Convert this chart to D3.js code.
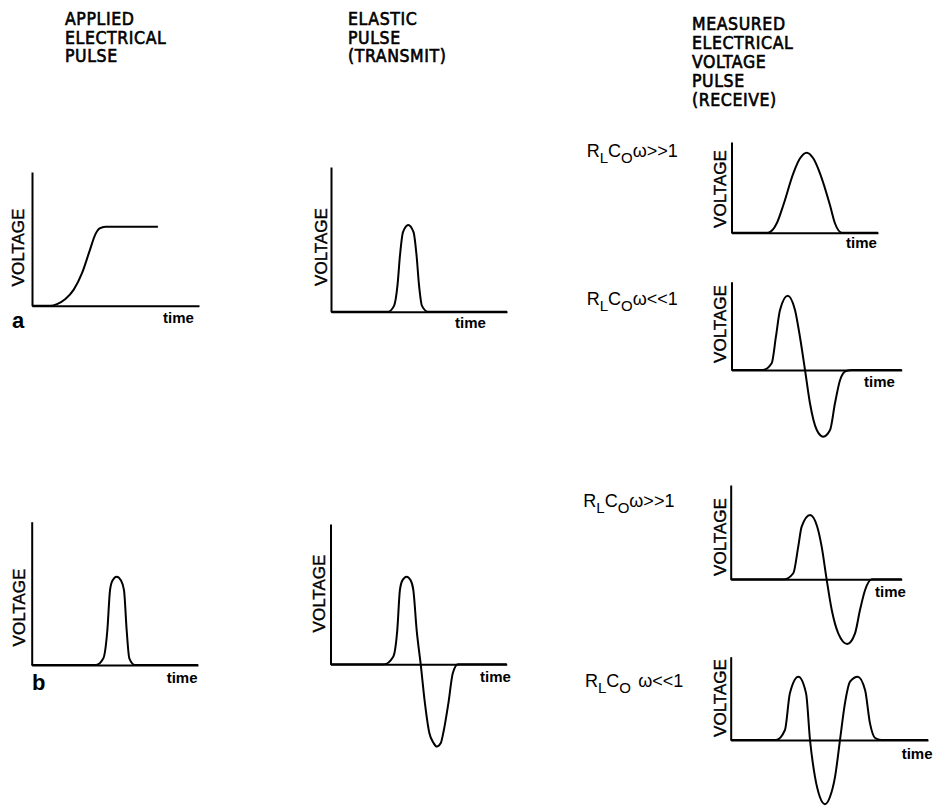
<!DOCTYPE html>
<html>
<head>
<meta charset="utf-8">
<script src="https://cdn.jsdelivr.net/npm/d3@7"></script>
<style>
  body { margin: 0; background: #fff; }
  text { fill: #000; }
</style>
</head>
<body>
<div id="chart"></div>
<script>
const WIDTH = 936;
const HEIGHT = 806;

// column headers
const headerApplied = ['APPLIED', 'ELECTRICAL', 'PULSE'];
const headerElastic = ['ELASTIC', 'PULSE', '(TRANSMIT)'];
const headerMeasured = ['MEASURED', 'ELECTRICAL', 'VOLTAGE', 'PULSE', '(RECEIVE)'];

// R_L C_0 conditions for the four receive traces
const conditionText = ['\u03c9>>1', '\u03c9<<1', '\u03c9>>1', '\u2009\u2009\u03c9<<1'];
const rowLetters = ['a', 'b'];

// waveforms as [time, voltage]: time runs 0..10 along the axis,
// voltage is a share of the vertical axis height
const appliedStep = [[0, 0], [1.08, 0], [1.5, 0.012], [2.0, 0.05], [2.5, 0.12], [3.0, 0.245],
  [3.45, 0.41], [3.8, 0.535], [4.05, 0.578], [4.4, 0.591], [7.54, 0.591]];

const elasticA = [[0, 0], [3.24, 0], [3.58, 0.04], [3.78, 0.185], [3.92, 0.39], [4.09, 0.55],
  [4.39, 0.6], [4.69, 0.55], [4.86, 0.39], [5.0, 0.185], [5.17, 0.04], [5.51, 0], [10, 0]];

const receiveA1 = [[0, 0], [2.49, 0], [3.09, 0.104], [3.54, 0.305], [4.22, 0.655], [4.68, 0.82],
  [5.13, 0.882], [5.58, 0.82], [6.04, 0.655], [6.72, 0.305], [7.06, 0.104], [7.54, 0], [10, 0]];

const receiveA2 = [[0, 0], [1.85, 0], [2.36, 0.076], [2.61, 0.377], [2.85, 0.68], [3.3, 0.841],
  [3.73, 0.68], [4.02, 0.377], [4.32, 0], [4.61, -0.377], [5.01, -0.68], [5.39, -0.755],
  [5.79, -0.68], [6.08, -0.377], [6.38, -0.113], [6.73, -0.011], [7.08, 0], [10, 0]];

const appliedPulse = [[0, 0], [3.87, 0], [4.31, 0.047], [4.55, 0.244], [4.71, 0.523], [4.86, 0.59],
  [5.11, 0.616], [5.37, 0.59], [5.55, 0.523], [5.71, 0.244], [5.87, 0.047], [6.21, 0], [10, 0]];

const elasticB = [[0, 0], [3.04, 0], [3.56, 0.054], [3.79, 0.244], [3.94, 0.53], [4.09, 0.6],
  [4.32, 0.624], [4.54, 0.6], [4.7, 0.53], [4.89, 0.244], [5.12, 0], [5.36, -0.278],
  [5.61, -0.49], [5.85, -0.561], [6.03, -0.586], [6.26, -0.561], [6.4, -0.49], [6.69, -0.278],
  [6.94, -0.064], [7.24, 0], [10, 0]];

const receiveB1 = [[0, 0], [3.12, 0], [3.66, 0.064], [3.95, 0.346], [4.15, 0.558], [4.64, 0.682],
  [5.06, 0.558], [5.32, 0.346], [5.61, 0], [5.91, -0.326], [6.29, -0.573], [6.82, -0.686],
  [7.27, -0.573], [7.56, -0.326], [7.86, -0.113], [8.26, 0], [10, 0]];

const receiveB2 = [[0, 0], [2.3, 0], [2.75, 0.12], [3.0, 0.56], [3.43, 0.76], [3.82, 0.56],
  [4.02, 0], [4.27, -0.44], [4.52, -0.684], [4.78, -0.77], [5.03, -0.684], [5.29, -0.44],
  [5.54, 0], [5.79, 0.44], [6.05, 0.7], [6.44, 0.76], [6.81, 0.6], [7.06, 0.2], [7.32, 0.024],
  [7.62, 0], [10, 0]];

// panel placement on the page
const panels = [
  { data: appliedStep,  x0: 32,    right: 199,   y0: 305.7, top: 172,   time: [163, 323],   volt: [18.5, 247.5] },
  { data: elasticA,     x0: 331,   right: 507,   y0: 311.7, top: 167,   time: [455, 328],   volt: [321, 247] },
  { data: receiveA1,    x0: 731.5, right: 878,   y0: 232.7, top: 142,   time: [846, 248],   volt: [720, 189] },
  { data: receiveA2,    x0: 731.5, right: 901.7, y0: 370,   top: 281.7, time: [864, 386.7], volt: [720, 324] },
  { data: appliedPulse, x0: 31.7,  right: 198,   y0: 665,   top: 521.7, time: [166.7, 683], volt: [19, 607.5] },
  { data: elasticB,     x0: 330.5, right: 506.7, y0: 664.3, top: 524,   time: [480, 681.7], volt: [319, 593.5] },
  { data: receiveB1,    x0: 730.7, right: 901.7, y0: 579.3, top: 485,   time: [875, 596.7], volt: [720, 537] },
  { data: receiveB2,    x0: 730.7, right: 928,   y0: 740,   top: 656.7, time: [901.7, 759], volt: [720, 698] }
];

const conditionPos = [[586.7, 157], [586.7, 305], [583.3, 507], [585, 687]];
const letterPos = [[12, 328], [32, 690]];

const svg = d3.select('#chart')
  .append('svg')
    .attr('width', WIDTH)
    .attr('height', HEIGHT);

const headFont = "'Liberation Sans Narrow', 'DejaVu Sans Condensed', sans-serif";
const bodyFont = "'Liberation Sans', Arial, sans-serif";

const drawHeader = (lines, x, baselines) => {
  svg.append('g')
    .selectAll('text')
    .data(lines)
    .enter()
    .append('text')
      .attr('x', x)
      .attr('y', (d, i) => baselines[i])
      .attr('font-family', headFont)
      .attr('font-size', 17.5)
      .attr('letter-spacing', 0.6)
      .attr('stroke', '#000')
      .attr('stroke-width', 0.6)
      .text(d => d);
};

drawHeader(headerApplied, 65, [24.5, 43.5, 62]);
drawHeader(headerElastic, 348, [24.5, 43.5, 62]);
drawHeader(headerMeasured, 692, [29.5, 48.5, 67.5, 86.5, 106]);

const line = d3.line().curve(d3.curveMonotoneX);

panels.forEach(p => {
  const x = d3.scaleLinear().domain([0, 10]).range([p.x0, p.right]);
  const y = d3.scaleLinear().domain([0, 1]).range([p.y0, p.top]);
  const g = svg.append('g');

  g.append('g')
    .attr('transform', `translate(0, ${y(0)})`)
    .call(d3.axisBottom(x).ticks(0).tickSizeOuter(0));
  g.append('g')
    .attr('transform', `translate(${x(0)}, 0)`)
    .call(d3.axisLeft(y).ticks(0).tickSizeOuter(0));
  g.selectAll('.domain')
    .attr('stroke', '#000')
    .attr('stroke-width', 2);

  g.append('path')
    .datum(p.data)
    .attr('fill', 'none')
    .attr('stroke', '#000')
    .attr('stroke-width', 2)
    .attr('d', line.x(d => x(d[0])).y(d => y(d[1])));

  g.append('text')
    .attr('x', p.time[0])
    .attr('y', p.time[1])
    .attr('font-family', bodyFont)
    .attr('font-weight', 'bold')
    .attr('font-size', 15)
    .text('time');

  g.append('text')
    .attr('transform', `translate(${p.volt[0]}, ${p.volt[1]}) rotate(-90)`)
    .attr('text-anchor', 'middle')
    .attr('dominant-baseline', 'central')
    .attr('font-family', bodyFont)
    .attr('font-size', 17)
    .attr('stroke', '#000')
    .attr('stroke-width', 0.4)
    .text('VOLTAGE');
});

conditionText.forEach((c, i) => {
  const t = svg.append('text')
    .attr('x', conditionPos[i][0])
    .attr('y', conditionPos[i][1])
    .attr('font-family', bodyFont)
    .attr('font-size', 18);
  t.append('tspan').text('R');
  t.append('tspan').attr('dy', 6).attr('font-size', 15).text('L');
  t.append('tspan').attr('dy', -6).text('C');
  t.append('tspan').attr('dy', 6).attr('font-size', 15).text('O');
  t.append('tspan').attr('dy', -6).text(c);
});

svg.selectAll('.letter')
  .data(rowLetters)
  .enter()
  .append('text')
    .attr('class', 'letter')
    .attr('x', (d, i) => letterPos[i][0])
    .attr('y', (d, i) => letterPos[i][1])
    .attr('font-family', bodyFont)
    .attr('font-weight', 'bold')
    .attr('font-size', 22)
    .text(d => d);
</script>
</body>
</html>
